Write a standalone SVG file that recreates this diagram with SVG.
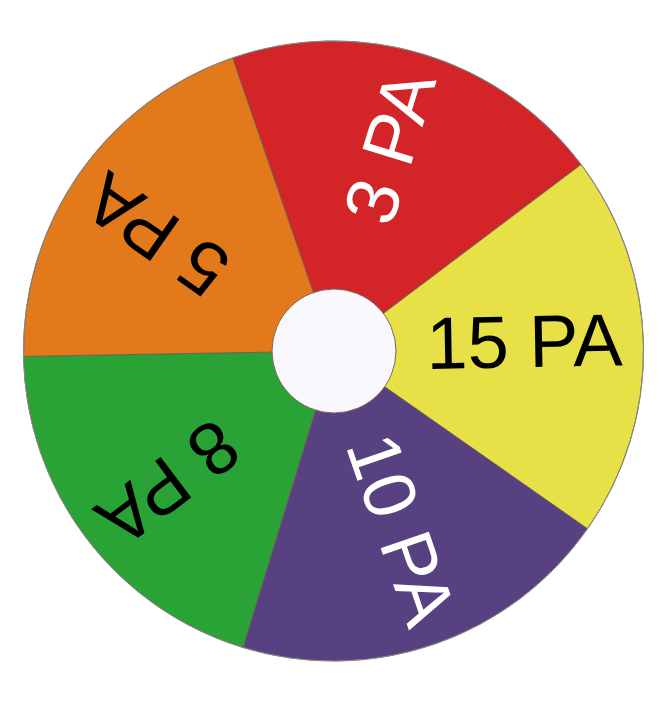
<svg xmlns="http://www.w3.org/2000/svg" width="666" height="703" viewBox="0 0 666 703">
  <style>
    .slice { stroke: #6e5f52; stroke-width: 0.9; stroke-linejoin: round; }
    .lbl { font-family: "Liberation Sans", Arial, sans-serif; font-size: 74px; text-anchor: end; }
    .w { fill: #ffffff; }
    .k { fill: #000000; }
  </style>
  <rect width="666" height="703" fill="#ffffff"/>
  <g id="wheel">
    <g id="slice-3pa">
      <path class="slice" fill="#d32427" d="M333.5,351 L232.57,57.89 A310,310 0 0 1 581.08,164.44 Z"/>
      <text class="lbl w" transform="translate(333.5,351) rotate(287)" x="289" y="19.5">3 PA</text>
    </g>
    <g id="slice-15pa">
      <path class="slice" fill="#e8e047" d="M333.5,351 L581.08,164.44 A310,310 0 0 1 587.44,528.81 Z"/>
      <text class="lbl k" transform="translate(333.5,351) rotate(-1)" x="289" y="19.5">15 PA</text>
    </g>
    <g id="slice-10pa">
      <path class="slice" fill="#574181" d="M333.5,351 L587.44,528.81 A310,310 0 0 1 242.87,647.45 Z"/>
      <text class="lbl w" transform="translate(333.5,351) rotate(71)" x="289" y="19.5">10 PA</text>
    </g>
    <g id="slice-8pa">
      <path class="slice" fill="#2aa336" d="M333.5,351 L242.87,647.45 A310,310 0 0 1 23.55,356.41 Z"/>
      <text class="lbl k" transform="translate(333.5,351) rotate(143)" x="289" y="19.5">8 PA</text>
    </g>
    <g id="slice-5pa">
      <path class="slice" fill="#e2791a" d="M333.5,351 L23.55,356.41 A310,310 0 0 1 232.57,57.89 Z"/>
      <text class="lbl k" transform="translate(333.5,351) rotate(215)" x="289" y="19.5">5 PA</text>
    </g>
    <circle cx="333.5" cy="351" r="310" fill="none" stroke="#8a8a8a" stroke-width="1"/>
    <g id="hub">
      <circle cx="334" cy="351" r="62" fill="#f9f8fd" stroke="#7a6658" stroke-width="1"/>
    </g>
  </g>
  <g id="connectors"/>
</svg>
